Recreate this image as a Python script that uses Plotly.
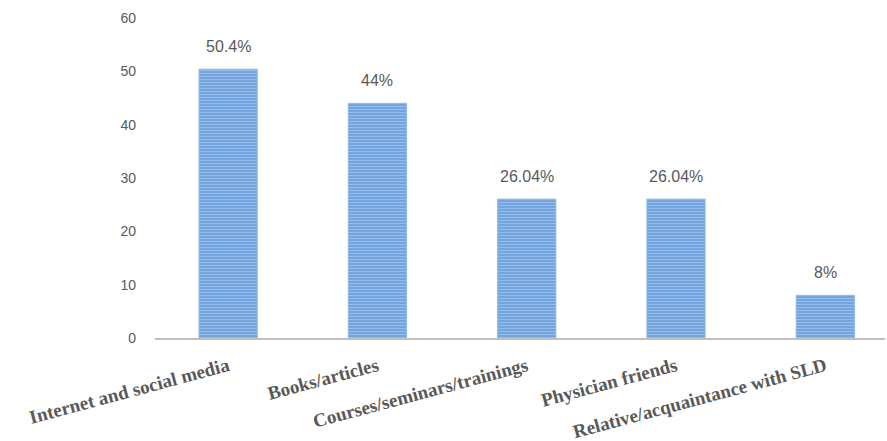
import plotly.graph_objects as go

categories = ["Internet and social media", "Books/articles", "Courses/seminars/trainings",
              "Physician friends", "Relative/acquaintance with SLD"]
values = [50.4, 44, 26.04, 26.04, 8]
labels = ["50.4%", "44%", "26.04%", "26.04%", "8%"]

fig = go.Figure(go.Bar(
    x=categories, y=values,
    marker=dict(
        color="#6fa2dd",
        line=dict(color="#8db8e8", width=1),
        pattern=dict(shape="-", fgcolor="#c4dbf4", bgcolor="#6a9fdc", size=3, solidity=0.45),
    ),
))

for c, v, t in zip(categories, values, labels):
    fig.add_annotation(x=c, y=v, text=t, showarrow=False, yanchor="bottom", yshift=12,
                       font=dict(family="Liberation Sans", size=16, color="#595959"))

fig.update_layout(
    width=887, height=441,
    margin=dict(l=155, r=2, t=18, b=103),
    plot_bgcolor="white", paper_bgcolor="white",
    bargap=0.61, showlegend=False,
    xaxis=dict(tickangle=-15, showline=True, linecolor="#bfbfbf", linewidth=2,
               range=[-0.49, 4.4], automargin=False,
               tickfont=dict(family="Liberation Serif", size=19, color="#595959", weight="bold"),
               ticks="outside", ticklen=8, tickcolor="rgba(0,0,0,0)"),
    yaxis=dict(range=[0, 60], dtick=10, showgrid=False, zeroline=False, automargin=False,
               tickfont=dict(family="Liberation Sans", size=14, color="#595959"),
               ticklabelstandoff=18),
)

fig.write_html("out.html")
